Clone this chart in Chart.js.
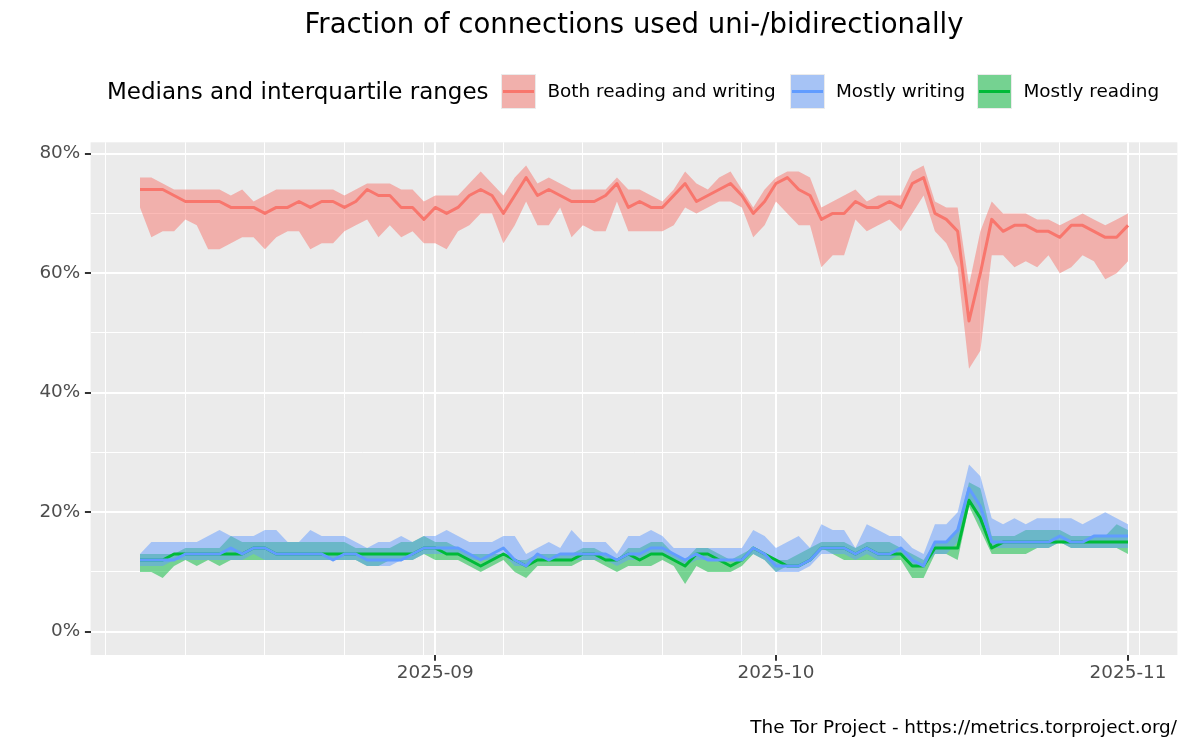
<!DOCTYPE html>
<html lang="en">
<head>
<meta charset="UTF-8">
<title>Fraction of connections used uni-/bidirectionally</title>
<script src="https://cdn.jsdelivr.net/npm/chart.js"></script>
<style>
    body {
        margin: 0;
        background-color: #fff;
        font-family: "DejaVu Sans", sans-serif;
    }
    .page {
        position: relative;
        width: 1200px;
        height: 750px;
    }
    #chart {
        position: absolute;
        left: 0;
        top: 0;
    }
    .title {
        position: absolute;
        left: 134px;
        width: 1000px;
        top: 10px;
        text-align: center;
        font-size: 27.5px;
        line-height: 1;
        color: #000;
        white-space: nowrap;
    }
    .legend-title {
        position: absolute;
        left: 107px;
        top: 80px;
        font-size: 23px;
        line-height: 1;
        white-space: nowrap;
    }
    .key {
        position: absolute;
        top: 73.5px;
        width: 35px;
        height: 35px;
        background-color: #EBEBEB;
    }
    .key .fill {
        position: absolute;
        left: 1px; top: 1px; right: 1px; bottom: 1px;
    }
    .key .line {
        position: absolute;
        left: 2px; right: 2px; top: 16px;
        height: 3px;
    }
    .lab {
        position: absolute;
        top: 82px;
        font-size: 18.4px;
        line-height: 1;
        white-space: nowrap;
    }
    .caption {
        position: absolute;
        right: 23px;
        top: 718px;
        font-size: 18.4px;
        line-height: 1;
        white-space: nowrap;
    }
</style>
</head>
<body>
<div class="page">
    <canvas id="chart" width="1200" height="750"></canvas>
    <div class="title">Fraction of connections used uni-/bidirectionally</div>

    <!-- legend -->
    <div class="legend-title">Medians and interquartile ranges</div>
    <div class="key" style="left:501px"><div class="fill" style="background:rgba(248,118,109,0.5)"></div><div class="line" style="background:#F8766D"></div></div>
    <div class="lab" style="left:547.5px">Both reading and writing</div>
    <div class="key" style="left:789.5px"><div class="fill" style="background:rgba(97,156,255,0.5)"></div><div class="line" style="background:#619CFF"></div></div>
    <div class="lab" style="left:836px">Mostly writing</div>
    <div class="key" style="left:977px"><div class="fill" style="background:rgba(0,186,56,0.5)"></div><div class="line" style="background:#00BA38"></div></div>
    <div class="lab" style="left:1023.5px">Mostly reading</div>

    <div class="caption">The Tor Project - https://metrics.torproject.org/</div>
</div>
<script>
    // one row per day
    const dates = [
        '2025-08-06','2025-08-07','2025-08-08','2025-08-09','2025-08-10','2025-08-11','2025-08-12','2025-08-13',
        '2025-08-14','2025-08-15','2025-08-16','2025-08-17','2025-08-18','2025-08-19','2025-08-20','2025-08-21',
        '2025-08-22','2025-08-23','2025-08-24','2025-08-25','2025-08-26','2025-08-27','2025-08-28','2025-08-29',
        '2025-08-30','2025-08-31','2025-09-01','2025-09-02','2025-09-03','2025-09-04','2025-09-05','2025-09-06',
        '2025-09-07','2025-09-08','2025-09-09','2025-09-10','2025-09-11','2025-09-12','2025-09-13','2025-09-14',
        '2025-09-15','2025-09-16','2025-09-17','2025-09-18','2025-09-19','2025-09-20','2025-09-21','2025-09-22',
        '2025-09-23','2025-09-24','2025-09-25','2025-09-26','2025-09-27','2025-09-28','2025-09-29','2025-09-30',
        '2025-10-01','2025-10-02','2025-10-03','2025-10-04','2025-10-05','2025-10-06','2025-10-07','2025-10-08',
        '2025-10-09','2025-10-10','2025-10-11','2025-10-12','2025-10-13','2025-10-14','2025-10-15','2025-10-16',
        '2025-10-17','2025-10-18','2025-10-19','2025-10-20','2025-10-21','2025-10-22','2025-10-23','2025-10-24',
        '2025-10-25','2025-10-26','2025-10-27','2025-10-28','2025-10-29','2025-10-30','2025-10-31','2025-11-01'
    ];

    // Both reading and writing (%)
    const bothMed = [74,74,74,73,72,72,72,72,71,71,71,70,71,71,72,71,72,72,71,72,74,73,
                     73,71,71,69,71,70,71,73,74,73,70,73,76,73,74,73,72,72,72,73,75,71,
                     72,71,71,73,75,72,73,74,75,73,70,72,75,76,74,73,69,70,70,72,71,71,
                     72,71,75,76,70,69,67,52,60,69,67,68,68,67,67,66,68,68,67,66,66,68];
    const bothHigh = [76,76,75,74,74,74,74,74,73,74,72,73,74,74,74,74,74,74,73,74,75,75,
                      75,74,74,72,73,73,73,75,77,75,73,76,78,75,76,75,74,74,74,74,76,74,
                      74,73,72,74,77,75,74,76,77,74,71,74,76,77,77,76,71,72,73,74,72,73,
                      73,73,77,78,72,71,71,58,67,72,70,70,70,69,69,68,69,70,69,68,69,70];
    const bothLow = [71,66,67,67,69,68,64,64,65,66,66,64,66,67,67,64,65,65,67,68,69,66,
                     68,66,67,65,65,64,67,68,70,70,65,68,72,68,68,71,66,68,67,67,72,67,
                     67,67,67,68,71,70,71,72,72,71,66,68,72,70,68,68,61,63,63,69,67,68,
                     69,67,70,73,67,65,61,44,47,63,63,61,62,61,63,60,61,63,62,59,60,62];

    // Mostly writing (%)
    const writeMed = [12,12,12,12,13,13,13,13,14,13,14,14,13,13,13,13,13,12,13,13,12,12,
                      12,12,13,14,14,14,14,13,12,13,14,12,11,13,12,13,13,13,13,13,12,13,
                      13,14,14,13,12,13,12,12,12,12,14,13,11,11,11,12,14,14,14,13,14,13,
                      13,14,12,11,15,15,17,24,21,15,15,15,15,15,15,16,15,15,16,16,16,16];
    const writeHigh = [13,15,15,15,15,15,16,17,16,16,16,17,17,15,15,17,16,16,16,15,14,15,
                       15,16,15,16,16,17,16,15,15,15,16,16,13,14,15,14,17,15,15,15,13,16,
                       16,17,16,14,14,14,14,14,14,14,17,16,14,15,16,14,18,17,17,14,18,17,
                       16,16,14,13,18,18,20,28,26,19,18,19,18,19,19,19,19,18,19,20,19,18];
    const writeLow = [11,11,11,12,12,12,12,12,12,12,13,12,12,12,12,12,12,12,12,12,11,11,
                      11,12,12,13,13,13,13,12,12,12,13,11,11,12,12,12,12,12,12,12,11,12,
                      12,13,13,12,11,12,12,12,12,12,13,12,10,10,10,11,13,13,13,12,13,12,
                      12,13,11,11,13,13,15,22,18,14,14,14,14,14,14,15,14,14,14,14,14,14];

    // Mostly reading (%)
    const readMed = [12,12,12,13,13,13,13,13,13,13,14,14,13,13,13,13,13,13,13,13,13,13,
                     13,13,13,14,14,13,13,12,11,12,13,12,11,12,12,12,12,13,13,12,12,13,
                     12,13,13,12,11,13,13,12,11,12,14,13,12,11,11,12,14,14,14,13,14,13,
                     13,13,11,11,14,14,14,22,19,14,15,15,15,15,15,15,15,15,15,15,15,15];
    const readHigh = [13,13,13,13,14,14,14,14,16,15,15,15,15,15,15,15,15,15,15,14,14,14,
                      14,15,15,16,15,15,14,13,13,13,13,12,12,13,13,13,13,14,14,13,12,14,
                      14,15,15,13,12,14,14,13,12,13,14,13,12,12,13,14,15,15,15,14,15,15,
                      15,14,13,12,15,15,17,25,24,16,16,16,17,17,17,17,16,16,16,16,18,17];
    const readLow = [10,10,9,11,12,11,12,11,12,12,12,12,12,12,12,12,12,12,12,12,11,11,
                     12,12,12,13,12,12,12,11,10,11,12,10,9,11,11,11,11,12,12,11,10,11,
                     11,11,12,11,8,11,10,10,10,11,13,12,10,11,11,12,14,13,12,12,12,12,
                     12,12,9,9,13,13,12,21,17,13,13,13,13,14,14,15,14,14,14,14,14,13];

    // axis breaks
    const majorBreaks = ['2025-09-01', '2025-10-01', '2025-11-01'];
    const majorLabels = ['2025-09', '2025-10', '2025-11'];
    const minorBreaks = ['2025-08-03','2025-08-10','2025-08-17','2025-08-24','2025-08-31','2025-09-07',
                         '2025-09-14','2025-09-21','2025-09-28','2025-10-05','2025-10-12','2025-10-19',
                         '2025-10-26','2025-11-02'];
    const yBreaks = [0, 10, 20, 30, 40, 50, 60, 70, 80];

    const day0 = Date.parse(dates[0]);
    const dayOf = d => (Date.parse(d) - day0) / 864e5;
    const pts = vals => dates.map((d, i) => ({ x: dayOf(d), y: vals[i] }));

    const majorX = majorBreaks.map(dayOf);
    const isMajorX = v => majorX.some(m => Math.abs(m - v) < 0.01);
    const isMajorY = v => v % 20 === 0;

    const FONT = '"DejaVu Sans", sans-serif';
    const RED = '#F8766D', BLUE = '#619CFF', GREEN = '#00BA38';

    function ribbon(vals, fillColor, fill, order) {
        return { data: pts(vals), borderWidth: 0, pointRadius: 0, fill: fill,
                 backgroundColor: fillColor, order: order, tension: 0 };
    }
    function line(vals, color, order) {
        return { data: pts(vals), borderColor: color, borderWidth: 3, pointRadius: 0,
                 fill: false, order: order, tension: 0, borderJoinStyle: 'round' };
    }

    // grey panel behind everything
    const panelBg = {
        id: 'panelBg',
        beforeDraw(chart) {
            const a = chart.chartArea, ctx = chart.ctx;
            ctx.save();
            ctx.fillStyle = '#EBEBEB';
            ctx.fillRect(a.left, a.top, a.right - a.left, a.bottom - a.top);
            ctx.restore();
        }
    };

    new Chart(document.getElementById('chart'), {
        type: 'line',
        data: {
            datasets: [
                ribbon(bothHigh, 'rgba(248,118,109,0.5)', '+1', 12),
                ribbon(bothLow, 'transparent', false, 12),
                ribbon(writeHigh, 'rgba(97,156,255,0.5)', '+1', 10),
                ribbon(writeLow, 'transparent', false, 10),
                ribbon(readHigh, 'rgba(0,186,56,0.5)', '+1', 11),
                ribbon(readLow, 'transparent', false, 11),
                line(bothMed, RED, 3),
                line(readMed, GREEN, 2),
                line(writeMed, BLUE, 1)
            ]
        },
        options: {
            responsive: false,
            animation: false,
            events: [],
            layout: { padding: { left: 0, top: 142.3, right: 22.6, bottom: 0 } },
            plugins: { legend: { display: false }, tooltip: { enabled: false } },
            scales: {
                x: {
                    type: 'linear',
                    min: -4.35,
                    max: 91.35,
                    afterFit: s => { s.height = 95; },
                    afterBuildTicks: s => {
                        s.ticks = minorBreaks.map(dayOf).concat(majorX)
                            .sort((a, b) => a - b).map(v => ({ value: v }));
                    },
                    border: { display: false },
                    grid: {
                        color: '#FFFFFF',
                        lineWidth: c => isMajorX(c.tick.value) ? 2 : 1,
                        tickColor: c => isMajorX(c.tick.value) ? '#333333' : 'rgba(0,0,0,0)',
                        tickWidth: 2,
                        tickLength: 5.7
                    },
                    ticks: {
                        autoSkip: false,
                        maxRotation: 0,
                        padding: 1.8,
                        color: '#4D4D4D',
                        font: { family: FONT, size: 18.4 },
                        callback: v => {
                            const i = majorX.findIndex(m => Math.abs(m - v) < 0.01);
                            return i >= 0 ? majorLabels[i] : '';
                        }
                    }
                },
                y: {
                    min: -3.9,
                    max: 81.9,
                    afterFit: s => { s.width = 90.6; },
                    afterBuildTicks: s => { s.ticks = yBreaks.map(v => ({ value: v })); },
                    border: { display: false },
                    grid: {
                        color: '#FFFFFF',
                        lineWidth: c => isMajorY(c.tick.value) ? 2 : 1,
                        tickColor: c => isMajorY(c.tick.value) ? '#333333' : 'rgba(0,0,0,0)',
                        tickWidth: 2,
                        tickLength: 5.7
                    },
                    ticks: {
                        autoSkip: false,
                        padding: 4.6,
                        color: '#4D4D4D',
                        font: { family: FONT, size: 18.4 },
                        callback: v => isMajorY(v) ? v + '%' : ''
                    }
                }
            }
        },
        plugins: [panelBg]
    });
</script>
</body>
</html>
